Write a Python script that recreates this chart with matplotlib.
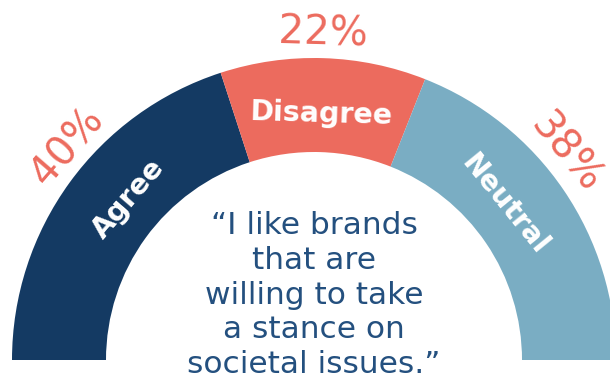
import numpy as np
import matplotlib.pyplot as plt

# survey answers (share of respondents, %)
labels = ["Agree", "Disagree", "Neutral"]
values = [40, 22, 38]
pct_text = ["40%", "22%", "38%"]
colors = ["#143A63", "#EC6B5E", "#7AADC3"]
quote = "\u201cI like brands\nthat are\nwilling to take\na stance on\nsocietal issues.\u201d"

fig = plt.figure(figsize=(6.1, 3.76), dpi=100)
ax = fig.add_axes([0, 0, 1, 1])

cx, cy = 314, 16
r_out, ring = 302, 94

# half donut: add an invisible wedge worth the other half
wedges, _ = ax.pie(values + [sum(values)], radius=r_out, center=(cx, cy),
                   startangle=180, counterclock=False,
                   colors=colors + ["none"],
                   wedgeprops=dict(width=ring, linewidth=0))
wedges[-1].set_visible(False)

ax.set_xlim(0, 610)
ax.set_ylim(0, 376)
ax.set_aspect("equal")
ax.axis("off")

# label positions along the arc
start = 180.0
for lab, v, p in zip(labels, values, pct_text):
    span = 180.0 * v / 100
    mid = start - span / 2
    start -= span
    ang = mid + 0.09 * (90 - mid)
    rot = ang - 90
    t = np.radians(ang)
    r_in = r_out - ring / 2 - 9
    ax.text(cx + r_in * np.cos(t), cy + r_in * np.sin(t), lab,
            rotation=rot, ha="center", va="center", color="white",
            fontsize=20.5, fontweight="bold", family="DejaVu Sans",
            rotation_mode="anchor")
    r_p = r_out + 24
    ax.text(cx + r_p * np.cos(t), cy + r_p * np.sin(t), p,
            rotation=rot, ha="center", va="center", color="#EC6B5E",
            fontsize=29, family="DejaVu Sans", rotation_mode="anchor")

ax.text(cx, 165, quote, ha="center", va="top", color="#24507F",
        fontsize=22.5, family="DejaVu Sans", linespacing=1.25)

fig.savefig("out.png")
